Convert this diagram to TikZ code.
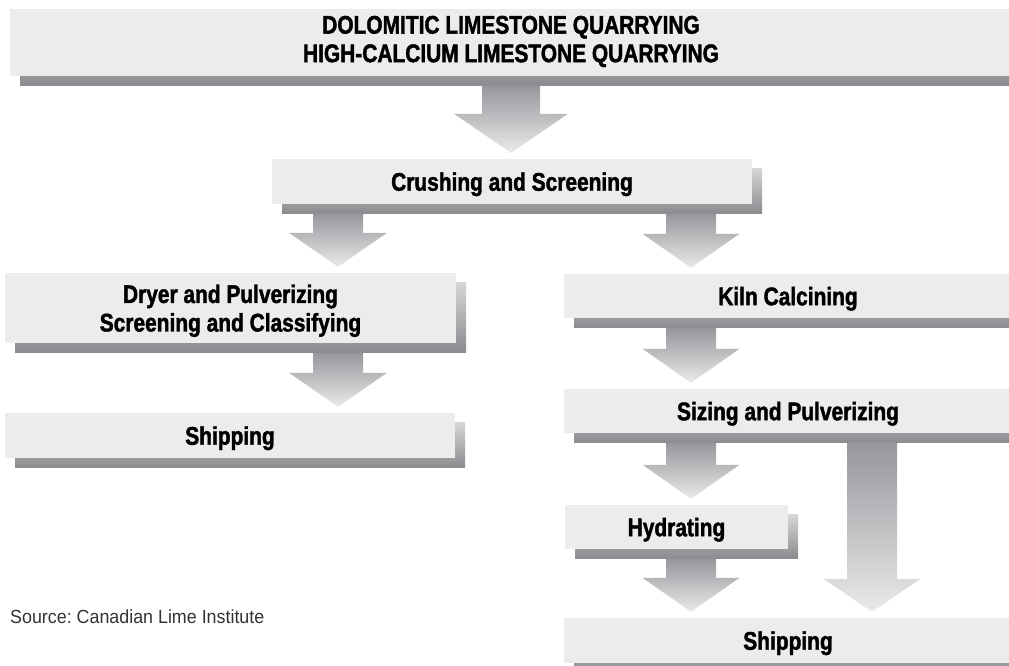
\documentclass[tikz,border=0pt]{standalone}
\usepackage{fontspec}
\setmainfont[FakeStretch=0.82,BoldFeatures={FakeBold=1.6}]{Liberation Sans}
\newfontfamily\srcfont[FakeStretch=0.94]{Liberation Sans}
\usetikzlibrary{calc,shadows}

\definecolor{boxgray}{HTML}{ECECEC}
\definecolor{shadowdark}{HTML}{8A8B8E}
\definecolor{shadowlight}{HTML}{D6D6D8}
\definecolor{arrowtop}{HTML}{96979B}
\definecolor{arrowtip}{HTML}{EAEAEB}
\definecolor{srcgray}{HTML}{333333}

\tikzset{
  stepbox/.style={fill=boxgray,inner sep=0pt,align=center,text=black,text depth=0pt,
    font=\bfseries\fontsize{25.5}{28.5}\selectfont,
    drop shadow={shadow xshift=10pt,shadow yshift=-9.5pt,opacity=1,
      top color=shadowlight,bottom color=shadowdark}},
  arrowfill/.style={top color=arrowtop,bottom color=arrowtip}
}

% block arrow: x, from node, to node, shaft half width, head half width, head length
\newcommand\flowarrow[6]{%
  \path[arrowfill] let \p1=(#2.south), \p2=(#3.north) in
    (#1pt-#4pt,\y1-9.5pt) -- (#1pt+#4pt,\y1-9.5pt) -- (#1pt+#4pt,\y2+6pt+#6pt)
    -- (#1pt+#5pt,\y2+6pt+#6pt) -- (#1pt,\y2+6pt) -- (#1pt-#5pt,\y2+6pt+#6pt)
    -- (#1pt-#4pt,\y2+6pt+#6pt) -- cycle;}

\begin{document}
\begin{tikzpicture}[x=1pt,y=-1pt]
  \useasboundingbox (0,0) rectangle (1009,666);

  % quarry and crushing
  \node[stepbox,text depth=7pt,minimum width=1002pt,minimum height=67pt] (quarry) at (511,42.5)
    {DOLOMITIC LIMESTONE QUARRYING\\HIGH-CALCIUM LIMESTONE QUARRYING};
  \node[stepbox,minimum width=480pt,minimum height=45pt] (crush) at (512,181.5)
    {Crushing and Screening};

  % left branch
  \node[stepbox,minimum width=451pt,minimum height=70pt] (dryer) at (230.5,308)
    {Dryer and Pulverizing\\Screening and Classifying};
  \node[stepbox,minimum width=450pt,minimum height=45pt] (shipleft) at (230,435.5)
    {Shipping};

  % right branch
  \node[stepbox,minimum width=448pt,minimum height=44pt] (kiln) at (788,296)
    {Kiln Calcining};
  \node[stepbox,minimum width=448pt,minimum height=44pt] (sizing) at (788,411)
    {Sizing and Pulverizing};
  \node[stepbox,minimum width=223pt,minimum height=44pt] (hydrate) at (676.5,527)
    {Hydrating};
  \node[stepbox,minimum width=448pt,minimum height=45pt] (shipright) at (788,640.5)
    {Shipping};

  % arrows
  \flowarrow{511}{quarry}{crush}{29}{57}{39}
  \flowarrow{338}{crush}{dryer}{25}{49}{34}
  \flowarrow{691}{crush}{kiln}{25}{48.5}{34}
  \flowarrow{338}{dryer}{shipleft}{25}{49}{34}
  \flowarrow{691}{kiln}{sizing}{25}{48.5}{34}
  \flowarrow{691}{sizing}{hydrate}{25}{48.5}{34}
  \flowarrow{691}{hydrate}{shipright}{25}{48.5}{34}
  \flowarrow{872}{sizing}{shipright}{25}{48.5}{33}

  \node[font=\srcfont\fontsize{19}{22}\selectfont,text=srcgray,anchor=base west,inner sep=0pt]
    (source) at (10,623) {\frenchspacing Source: Canadian Lime Institute};
\end{tikzpicture}
\end{document}
